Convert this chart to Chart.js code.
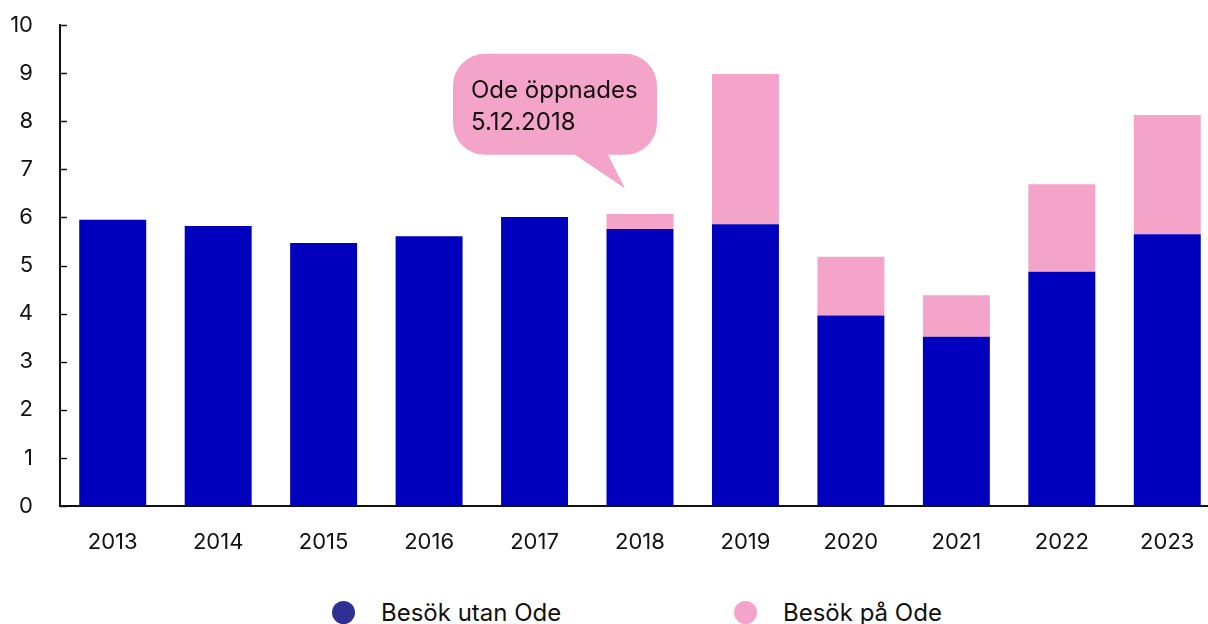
<!DOCTYPE html>
<html>
<head>
    <title>Besök</title>
    <script src="https://cdn.jsdelivr.net/npm/chart.js"></script>
    <style>
        body {
            margin: 0;
            width: 1208px;
            height: 624px;
            overflow: hidden;
            background: #fff;
            font-family: Inter, "Noto Sans", sans-serif;
        }
        .wrap {
            position: relative;
            width: 1222px;
            height: 566px;
        }
        .legend {
            position: absolute;
            top: 598px;
            left: 0;
            width: 1208px;
            height: 28px;
        }
        .legend-item {
            position: absolute;
            top: 0;
            display: flex;
            align-items: center;
            font-size: 24px;
            color: #111;
        }
        .legend-dot {
            width: 23px;
            height: 23px;
            border-radius: 50%;
            margin-right: 26px;
        }
    </style>
</head>
<body>
    <div class="wrap">
        <canvas id="chart" width="1222" height="566"></canvas>
    </div>
    <div class="legend" id="legend"></div>

    <script>
        const years = ['2013', '2014', '2015', '2016', '2017', '2018', '2019', '2020', '2021', '2022', '2023'];
        const utanOde = [5.95, 5.82, 5.47, 5.61, 6.01, 5.76, 5.86, 3.96, 3.52, 4.87, 5.65];
        const paOde = [0, 0, 0, 0, 0, 0.31, 3.12, 1.22, 0.86, 1.82, 2.48];
        const yTicks = [0, 1, 2, 3, 4, 5, 6, 7, 8, 9, 10];

        const seriesLabels = ['Besök utan Ode', 'Besök på Ode'];
        const barColors = ['#0000bd', '#f4a4c9'];
        const legendColors = ['#2e3192', '#f4a4c9'];
        const calloutLines = ['Ode öppnades', '5.12.2018'];

        // inward tick marks on the y axis
        const innerTicks = {
            id: 'innerTicks',
            afterDraw(chart) {
                const ctx = chart.ctx;
                const y = chart.scales.y;
                const left = chart.chartArea.left;
                ctx.save();
                ctx.strokeStyle = '#111';
                ctx.lineWidth = 1.5;
                yTicks.forEach(v => {
                    const py = Math.round(y.getPixelForValue(v)) + 0.5;
                    ctx.beginPath();
                    ctx.moveTo(left, py);
                    ctx.lineTo(left + 7, py);
                    ctx.stroke();
                });
                ctx.restore();
            }
        };

        // speech bubble pointing at 2018
        const callout = {
            id: 'callout',
            afterDraw(chart) {
                const ctx = chart.ctx;
                const x = chart.scales.x;
                const y = chart.scales.y;
                const cx = x.getPixelForValue(5);
                const tipX = cx - 15;
                const tipY = y.getPixelForValue(6.6);
                const left = cx - 187;
                const right = cx + 17;
                const top = y.getPixelForValue(9.4);
                const bottom = y.getPixelForValue(7.3);
                const r = 32;
                ctx.save();
                ctx.fillStyle = barColors[1];
                ctx.beginPath();
                ctx.moveTo(left + r, top);
                ctx.lineTo(right - r, top);
                ctx.arcTo(right, top, right, top + r, r);
                ctx.lineTo(right, bottom - r);
                ctx.arcTo(right, bottom, right - r, bottom, r);
                ctx.lineTo(cx - 32, bottom);
                ctx.lineTo(tipX, tipY);
                ctx.lineTo(cx - 65, bottom);
                ctx.lineTo(left + r, bottom);
                ctx.arcTo(left, bottom, left, bottom - r, r);
                ctx.lineTo(left, top + r);
                ctx.arcTo(left, top, left + r, top, r);
                ctx.closePath();
                ctx.fill();
                ctx.fillStyle = '#111';
                ctx.font = '24px Inter, "Noto Sans", sans-serif';
                ctx.textBaseline = 'alphabetic';
                ctx.fillText(calloutLines[0], left + 18, top + 44);
                ctx.fillText(calloutLines[1], left + 18, top + 76);
                ctx.restore();
            }
        };

        const chart = new Chart(document.getElementById('chart').getContext('2d'), {
            type: 'bar',
            data: {
                labels: years,
                datasets: [
                    { label: seriesLabels[0], data: utanOde, backgroundColor: barColors[0] },
                    { label: seriesLabels[1], data: paOde, backgroundColor: barColors[1] }
                ]
            },
            options: {
                responsive: false,
                animation: false,
                barPercentage: 0.635,
                categoryPercentage: 1,
                layout: { padding: { top: 25, right: 2, left: 0, bottom: 0 } },
                plugins: {
                    legend: { display: false },
                    tooltip: { enabled: false }
                },
                scales: {
                    x: {
                        stacked: true,
                        grid: { display: false, drawTicks: false },
                        border: { display: true, color: '#111', width: 2 },
                        ticks: {
                            color: '#111',
                            padding: 23,
                            font: { family: 'Inter', size: 22 }
                        },
                        afterFit: s => { s.height = 60; s.paddingLeft = 0; s.paddingRight = 0; }
                    },
                    y: {
                        stacked: true,
                        min: 0,
                        max: 10,
                        grid: { display: false, drawTicks: false },
                        border: { display: true, color: '#111', width: 2 },
                        ticks: {
                            stepSize: 1,
                            color: '#111',
                            padding: 27,
                            font: { family: 'Inter', size: 22 }
                        },
                        afterFit: s => { s.width = 60; s.paddingTop = 0; s.paddingBottom = 0; }
                    }
                }
            },
            plugins: [innerTicks, callout]
        });

        // html legend
        const legendEl = document.getElementById('legend');
        const legendLeft = [332, 734];
        chart.data.datasets.forEach((ds, i) => {
            const item = document.createElement('div');
            item.className = 'legend-item';
            item.style.left = legendLeft[i] + 'px';
            item.innerHTML = '<span class="legend-dot" style="background:' + legendColors[i] + '"></span>' + ds.label;
            legendEl.appendChild(item);
        });
    </script>
</body>
</html>
